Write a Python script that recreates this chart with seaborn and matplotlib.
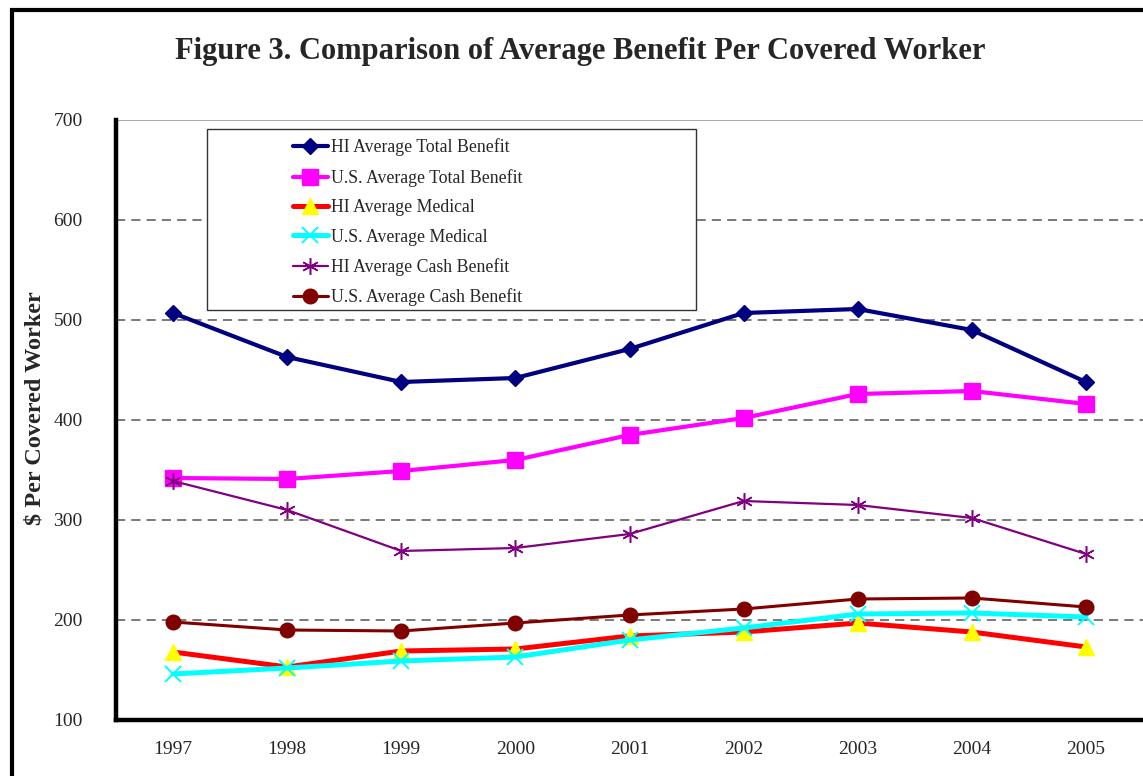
import matplotlib
matplotlib.use("Agg")
import matplotlib.pyplot as plt
import seaborn as sns
import pandas as pd
from matplotlib.patches import Rectangle
from matplotlib.ticker import FixedLocator

sns.set_style("white")
plt.rcParams['font.family'] = ['Liberation Serif', 'DejaVu Serif']

# 数据
years = ["1997", "1998", "1999", "2000", "2001", "2002", "2003", "2004", "2005"]
hi_total = [507, 463, 438, 442, 471, 507, 511, 490, 438]
us_total = [342, 341, 349, 360, 385, 402, 426, 429, 416]
hi_medical = [168, 153, 169, 171, 184, 188, 197, 188, 173]
us_medical = [146, 152, 159, 163, 180, 192, 206, 207, 203]
hi_cash = [339, 310, 269, 272, 286, 319, 315, 302, 266]
us_cash = [198, 190, 189, 197, 205, 211, 221, 222, 213]

series = [
    ("HI Average Total Benefit", hi_total, "#000080", 3.0, "D", 8.2, "#000080", "#000080", 1.0),
    ("U.S. Average Total Benefit", us_total, "#FF00FF", 3.0, "s", 11.5, "#FF00FF", "#FF00FF", 1.0),
    ("HI Average Medical", hi_medical, "#FF0000", 3.6, "^", 11.5, "#FFFF00", "#FFFF00", 1.0),
    ("U.S. Average Medical", us_medical, "#00FFFF", 3.6, "x", 11.0, "#00FFFF", "#00FFFF", 1.4),
    ("HI Average Cash Benefit", hi_cash, "#800080", 1.6, (6, 2, 0), 12.0, "#800080", "#800080", 1.1),
    ("U.S. Average Cash Benefit", us_cash, "#800000", 2.2, "o", 10.5, "#800000", "#800000", 1.0),
]

fig = plt.figure(figsize=(11.43, 7.76), dpi=100)
ax = fig.add_axes([116 / 1143, 56 / 776, 1027 / 1143, 600 / 776])

xs = list(range(len(years)))
for name, vals, color, lw, marker, ms, mfc, mec, mew in series:
    df = pd.DataFrame({"x": xs, "y": vals})
    sns.lineplot(data=df, x="x", y="y", ax=ax, color=color, linewidth=lw,
                 marker=marker, markersize=ms, markerfacecolor=mfc,
                 markeredgecolor=mec, markeredgewidth=mew, label=name, zorder=3)

ax.set_xlim(-0.5, 8.5)
ax.set_ylim(100, 700)
ax.set_xticks(xs)
ax.set_xticklabels(years)
ax.xaxis.set_minor_locator(FixedLocator([i + 0.5 for i in range(8)]))
ax.set_yticks(range(100, 701, 100))
ax.set_xlabel("")
ax.set_ylabel("$ Per Covered Worker", fontsize=17.5, fontweight="bold")
ax.yaxis.set_label_coords(-0.069, 0.52)

ax.tick_params(axis="x", which="major", length=0, pad=15, labelsize=14)
ax.tick_params(axis="x", which="minor", direction="in", length=5, width=3, color="black")
ax.tick_params(axis="y", direction="inout", length=6, width=3, pad=21, labelsize=14, color="black")

for s in ["top", "right"]:
    ax.spines[s].set_visible(False)
for s in ["left", "bottom"]:
    ax.spines[s].set_linewidth(3.2)
    ax.spines[s].set_color("black")
    ax.spines[s].set_zorder(4)

# 网格线
for v in range(200, 700, 100):
    ax.axhline(v, color="#555555", linewidth=1.1, linestyle=(0, (6, 4)), zorder=1)
ax.axhline(700, color="#999999", linewidth=1.2, zorder=1)

# 图例
ax.add_patch(Rectangle((0.0885, 0.683), 0.4765, 0.302, transform=ax.transAxes,
                       facecolor="white", edgecolor="#333333", linewidth=1.0, zorder=5))
leg = ax.legend(loc="upper left", bbox_to_anchor=(0.172, 0.969), frameon=False,
                fontsize=12.8, borderpad=0, borderaxespad=0, labelspacing=0.7,
                handlelength=2.0, handletextpad=0.15)
leg.set_zorder(6)

fig.text(580 / 1143, 1 - 52 / 776, "Figure 3. Comparison of Average Benefit Per Covered Worker",
         ha="center", va="center", fontsize=22, fontweight="bold")

# 外框
fig.patches.append(Rectangle((12 / 1143, -0.1), 1.2, 1 - 10 / 776 + 0.1,
                             transform=fig.transFigure, fill=False,
                             edgecolor="black", linewidth=3.0))

fig.savefig("out.png", dpi=100)
